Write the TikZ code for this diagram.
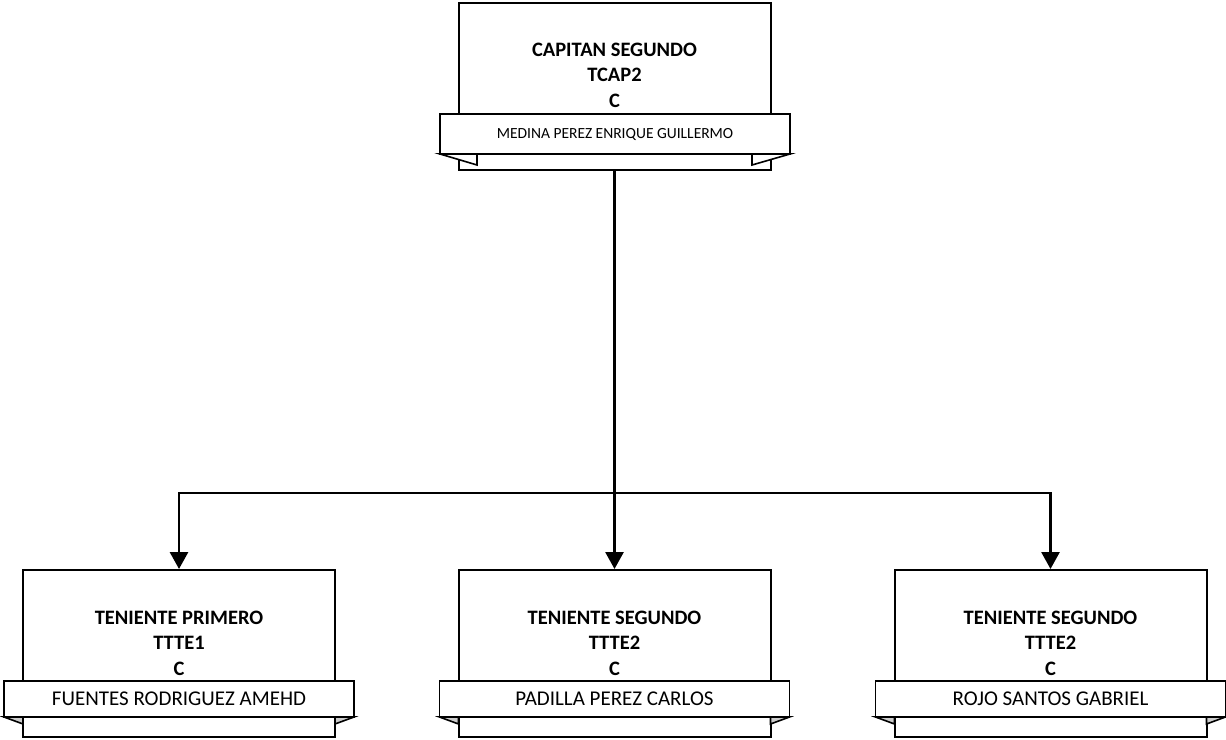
\documentclass[tikz,border=0pt]{standalone}
\usepackage{fontspec}
\setmainfont{Carlito}
\usetikzlibrary{arrows.meta}
\begin{document}
\begin{tikzpicture}[x=1pt,y=-1pt,
  posbox/.style={draw=black,line width=2pt,fill=white,minimum width=312pt,minimum height=167pt,inner sep=0pt},
  titletext/.style={font=\fontsize{20.5}{25.5}\selectfont\bfseries,align=center,inner sep=0pt},
  banner/.style={draw=black,line width=1.6pt,fill=white,minimum width=350pt,inner sep=0pt},
  namebig/.style={font=\fontsize{21}{22}\selectfont},
  namesmall/.style={font=\fontsize{15.5}{17}\selectfont},
  foldtop/.style={draw=black,line width=1.6pt,fill=white,line join=miter},
  foldbot/.style={draw=black,line width=1.6pt,fill=black!20,line join=miter},
  conn/.style={line width=2.8pt,-{Triangle[width=18pt,length=17pt]}},
  connplain/.style={line width=2.8pt}
]
\useasboundingbox (0,0) rectangle (1226,739);

% top position
\node[posbox] (top) at (614.5,86.5) {};
\node[titletext] (toptitle) at (614.5,75) {CAPITAN SEGUNDO\\TCAP2\\C};
\draw[foldtop] (440,154) -- (477,154) -- (477,165) -- cycle;
\draw[foldtop] (790,154) -- (752,154) -- (752,165) -- cycle;
\node[banner,minimum height=40pt,namesmall] (topname) at (615,134) {MEDINA PEREZ ENRIQUE GUILLERMO};

% bottom positions
\foreach \n/\cx/\ta/\tb/\nm in {b1/179/TENIENTE PRIMERO/TTTE1/FUENTES RODRIGUEZ AMEHD,
                               b2/614.5/TENIENTE SEGUNDO/TTTE2/PADILLA PEREZ CARLOS,
                               b3/1050.5/TENIENTE SEGUNDO/TTTE2/ROJO SANTOS GABRIEL}{
  \node[posbox] (\n) at (\cx,653.5) {};
  \node[titletext] (\n title) at (\cx,643) {\ta\\\tb\\C};
  \draw[foldbot] (\cx-175,717) -- (\cx-156,717) -- (\cx-156,724) -- cycle;
  \draw[foldbot] (\cx+175,717) -- (\cx+156,717) -- (\cx+156,724) -- cycle;
  \node[banner,minimum height=36pt,namebig] (\n name) at (\cx,699) {\nm};
}

% connectors
\coordinate (j) at (614.5,493);
\draw[connplain] (top.south) -- (j);
\draw[conn] (j) -| (b1.north);
\draw[conn] (j) -- (b2.north);
\draw[conn] (j) -| (b3.north);
\end{tikzpicture}
\end{document}
